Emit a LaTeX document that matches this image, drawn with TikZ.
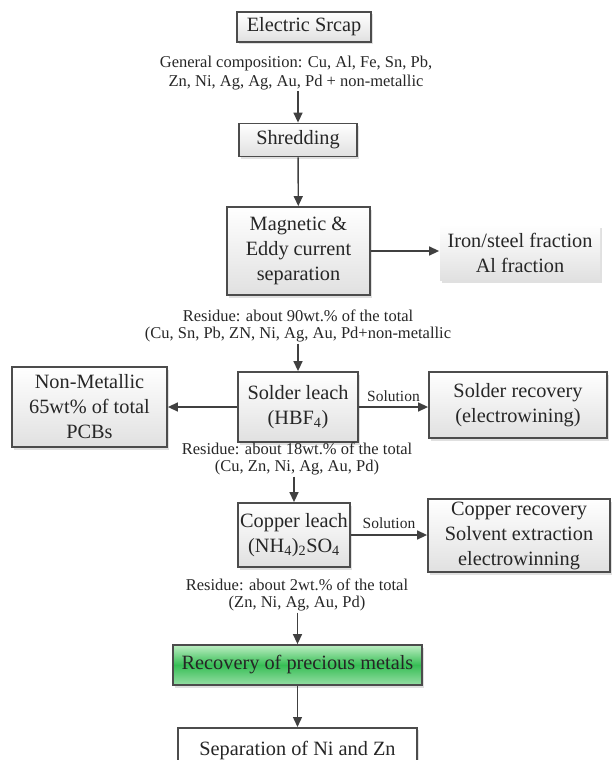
\documentclass[tikz,border=0pt]{standalone}
\usepackage{fontspec}
\setmainfont{Liberation Serif}
\usetikzlibrary{arrows.meta}

\begin{document}
\begin{tikzpicture}[x=1pt, y=-1pt,
    box/.style={draw=black!70, line width=1.8pt, top color=white, bottom color=black!12,
      preaction={fill=black!12, transform canvas={shift={(2pt,-2.5pt)}}},
      align=center, inner sep=2pt, text=black!85,
      font=\rmfamily\fontsize{20.3}{25}\selectfont},
    softbox/.style={box, draw=none},
    greenbox/.style={box, top color={rgb,255:red,190;green,238;blue,196},
      bottom color={rgb,255:red,150;green,222;blue,165},
      middle color={rgb,255:red,55;green,190;blue,85}},
    plainbox/.style={box, top color=white, bottom color=white},
    note/.style={align=center, inner sep=1pt, text=black!85,
      font=\rmfamily\fontsize{16.5}{17.5}\selectfont},
    lab/.style={inner sep=1pt, text=black!85, font=\rmfamily\fontsize{15.5}{17}\selectfont},
    arr/.style={draw=black!75, line width=1.4pt, -{Triangle[length=10pt, width=9pt]}}
  ]
  \useasboundingbox (0,0) rectangle (612,760);

  % main column
  \node[box, minimum width=134pt, minimum height=30pt] (scrap) at (304,27) {Electric Srcap};
  \node[note, font=\rmfamily\fontsize{16.5}{19}\selectfont] (comp) at (296,73) {General composition: Cu, Al, Fe, Sn, Pb,\\Zn, Ni, Ag, Ag, Au, Pd + non-metallic};
  \node[box, minimum width=118pt, minimum height=33pt] (shred) at (298,140) {Shredding};
  \node[box, minimum width=143pt, minimum height=88pt] (magnet) at (298.5,251) {Magnetic \&\\Eddy current\\separation};
  \node[softbox, minimum width=160pt, minimum height=55pt] (iron) at (520,252.5) {Iron/steel fraction\\Al fraction};

  \node[note] (res1) at (298,326) {Residue: about 90wt.\% of the total\\(Cu, Sn, Pb, ZN, Ni, Ag, Au, Pd+non-metallic};
  \node[box, minimum width=120pt, minimum height=70pt] (solder) at (298,407) {Solder leach\\(HBF\textsubscript{4})};
  \node[box, minimum width=155pt, minimum height=80pt] (nonmet) at (89.5,407) {Non-Metallic\\65wt\% of total\\PCBs};
  \node[box, minimum width=178pt, minimum height=66pt] (solrec) at (518,405) {Solder recovery\\(electrowining)};

  \node[note] (res2) at (297,459) {Residue: about 18wt.\% of the total\\(Cu, Zn, Ni, Ag, Au, Pd)};
  \node[box, minimum width=112pt, minimum height=64pt] (culeach) at (294,535) {Copper leach\\(NH\textsubscript{4})\textsubscript{2}SO\textsubscript{4}};
  \node[box, minimum width=182pt, minimum height=73pt] (curec) at (519,535.5) {Copper recovery\\Solvent extraction\\electrowinning};

  \node[note] (res3) at (297,595) {Residue: about 2wt.\% of the total\\(Zn, Ni, Ag, Au, Pd)};
  \node[greenbox, minimum width=249pt, minimum height=40pt] (precious) at (297.5,665) {Recovery of precious metals};
  \node[plainbox, minimum width=239pt, minimum height=46pt, anchor=north] (sep) at (297.5,727) {Separation of Ni and Zn};

  % connectors
  \draw[arr] (comp.south -| shred.north) -- (shred.north);
  \draw[arr] (shred) -- (magnet);
  \draw[arr] (magnet.east) -- (iron.west |- magnet.east);
  \draw[arr] (res1.south -| solder.north) -- (solder.north);
  \draw[arr] (solder.west |- nonmet.east) -- (nonmet.east);
  \draw[arr] (solder.east) -- node[lab, above=4pt] {Solution} (solrec.west |- solder.east);
  \draw[arr] (res2.south -| culeach.north) -- (culeach.north);
  \draw[arr] (culeach.east) -- node[lab, above=5pt] {Solution} (curec.west |- culeach.east);
  \draw[arr] (res3.south -| precious.north) -- (precious.north);
  \draw[arr] (precious) -- (sep);
\end{tikzpicture}
\end{document}
